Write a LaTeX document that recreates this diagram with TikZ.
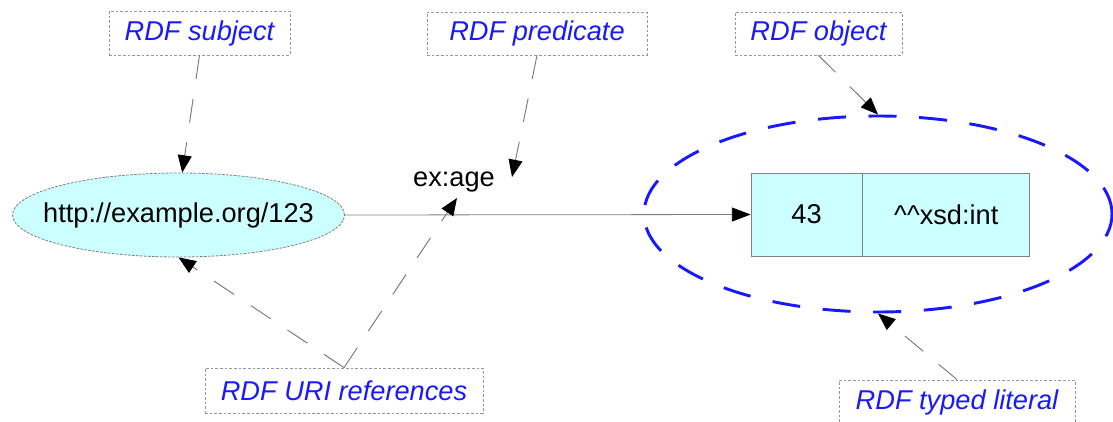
\documentclass[tikz,border=0pt]{standalone}
\usepackage{fontspec}
\setmainfont{Liberation Sans}
\usetikzlibrary{arrows.meta,shapes.geometric}
\definecolor{lblue}{RGB}{25,25,255}
\definecolor{cyanfill}{RGB}{204,255,255}
\definecolor{lgray}{RGB}{150,150,150}
\begin{document}
\begin{tikzpicture}[x=0.75pt,y=-0.75pt,
  every node/.style={font=\fontsize{20.4}{24}\selectfont, inner sep=0pt},
  labelbox/.style={draw=lgray, line width=0.6pt, dash pattern=on 2pt off 1.5pt, text=lblue, font=\fontsize{20.4}{24}\selectfont\itshape},
  pointer/.style={draw=lgray!80!black, line width=0.7pt, dash pattern=on 18pt off 15pt, -{Triangle[length=13pt,width=10.5pt,color=black]}},
  cellbox/.style={draw=gray, fill=cyanfill, line width=0.6pt, minimum height=62.25pt}
]
\useasboundingbox (0,0) rectangle (1113,421);
% main nodes
\node[ellipse, draw=gray, fill=cyanfill, line width=0.6pt, dash pattern=on 2pt off 1pt, minimum width=249pt, minimum height=63pt] (ell) at (178.5,215) {};
\node (uriText) at (ell.center) {http://example.org/123};
\node[cellbox, minimum width=83.25pt] (n43) at (806.5,214.5) {43};
\node[cellbox, minimum width=125.25pt, anchor=west] (xsd) at (n43.east) {\textasciicircum\textasciicircum xsd:int};
\node[ellipse, draw=lblue, line width=2.2pt, dash pattern=on 21pt off 17pt, minimum width=351pt, minimum height=147pt] (dell) at (878,214) {};
\node (exage) at (454,182) {ex:age};
% label boxes
\node[labelbox, minimum width=135.75pt, minimum height=33pt] (subj) at (199.5,33) {RDF subject};
\node[labelbox, minimum width=165pt, minimum height=32.25pt] (pred) at (537,33.5) {RDF predicate};
\node[labelbox, minimum width=125.25pt, minimum height=32.25pt] (obj) at (818.5,33.5) {RDF object};
\node[labelbox, minimum width=208.5pt, minimum height=33.75pt] (uri) at (344,390.5) {RDF URI references};
\node[labelbox, minimum width=177pt, minimum height=33pt] (typed) at (957,402) {RDF typed literal};
% free pointer ends
\coordinate (predtip) at (512,177);
\coordinate (uritip) at (457,198);
% edge
\draw[gray, line width=0.6pt, -{Triangle[length=14pt,width=10.5pt,color=black]}] (ell.east) -- (n43.west);
% pointers
\draw[pointer] (subj.south) -- (ell.85);
\draw[pointer] (pred.south) -- (predtip);
\draw[pointer] (obj.south) -- (dell.north);
\draw[pointer] (uri.north) -- (ell.south);
\draw[pointer] (uri.north) -- (uritip);
\draw[pointer] (typed.north) -- (dell.south);
\end{tikzpicture}
\end{document}
